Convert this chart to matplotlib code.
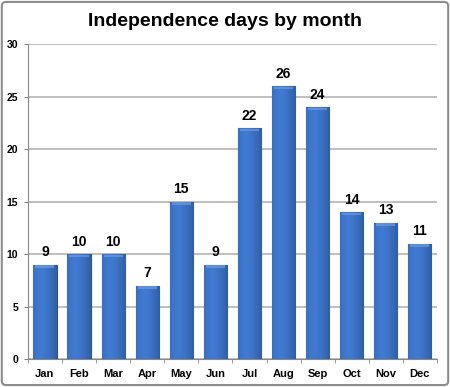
import matplotlib
matplotlib.use("Agg")
import matplotlib.pyplot as plt
import numpy as np
from matplotlib.patches import FancyBboxPatch

months = ["Jan", "Feb", "Mar", "Apr", "May", "Jun", "Jul", "Aug", "Sep", "Oct", "Nov", "Dec"]
counts = [9, 10, 10, 7, 15, 9, 22, 26, 24, 14, 13, 11]
yticks = [0, 5, 10, 15, 20, 25, 30]

plt.rcParams['font.family'] = ['Liberation Sans', 'DejaVu Sans']

fig = plt.figure(figsize=(4.5, 3.87), dpi=100)
ax = fig.add_axes([0.062, 0.072, 0.909, 0.814])

x = np.arange(len(months))
bars = ax.bar(x, counts, width=0.68, color="#3A6FBF", edgecolor="#2A5191", linewidth=0.8, zorder=3)

grad = np.linspace(0, 1, 64)
shade = 1 - (np.abs(grad - 0.35) / 0.65) ** 1.5
img = np.zeros((1, 64, 4))
base = np.array([0x3A, 0x6F, 0xBF]) / 255
for i in range(64):
    c = base * (0.85 + 0.25 * shade[i])
    img[0, i, :3] = np.clip(c, 0, 1)
    img[0, i, 3] = 1
for b in bars:
    x0, y0 = b.get_x(), b.get_y()
    w, h = b.get_width(), b.get_height()
    im = ax.imshow(img, extent=[x0, x0 + w, y0, y0 + h], aspect='auto', zorder=3.5, interpolation='bilinear')
    im.set_clip_path(b)
    ax.fill_between([x0 + 0.06, x0 + w - 0.06], y0 + h - 0.3, y0 + h - 0.05, color="#6E9BDB", alpha=0.7, zorder=3.6, linewidth=0)

for xi, v in zip(x, counts):
    ax.text(xi, v + 0.5, str(v), ha='center', va='bottom', fontsize=10, fontweight='bold', zorder=5)

ax.set_xlim(-0.5, len(months) - 0.5)
ax.set_ylim(0, 30)
ax.set_yticks(yticks)
ax.set_yticklabels([str(t) for t in yticks], fontsize=7.5, fontweight='bold')
ax.set_xticks(x)
ax.set_xticklabels(months, fontsize=8, fontweight='bold')
ax.set_xticks(np.arange(-0.5, len(months)), minor=True)
ax.tick_params(axis='x', which='major', length=0, pad=7)
ax.tick_params(axis='x', which='minor', length=3, color="#888888", direction='out')
ax.tick_params(axis='y', length=3, color="#888888", direction='out', pad=4)
ax.grid(axis='y', color="#B4B4B4", linewidth=1.2, zorder=0)
for s in ['top', 'right']:
    ax.spines[s].set_visible(False)
ax.spines['left'].set_color("#888888")
ax.spines['bottom'].set_color("#888888")

fig.text(0.5, 0.945, "Independence days by month", ha='center', va='center', fontsize=14, fontweight='bold')

border = FancyBboxPatch((0.004, 0.005), 0.992, 0.99, boxstyle="round,pad=0,rounding_size=0.01",
                        transform=fig.transFigure, fill=False, edgecolor="#8C8C8C", linewidth=1.5)
fig.patches.append(border)

fig.savefig("out.png", dpi=100)
